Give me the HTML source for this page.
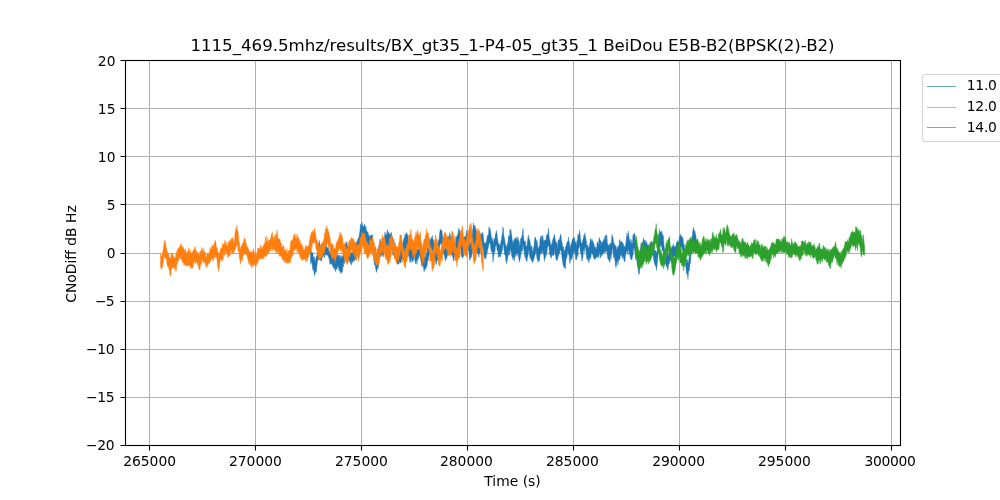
<!DOCTYPE html>
<html lang="en">
<head>
<meta charset="utf-8">
<title>1115_469.5mhz/results/BX_gt35_1-P4-05_gt35_1 BeiDou E5B-B2(BPSK(2)-B2)</title>
<style>
html,body{margin:0;padding:0;background:#fff;}
body{width:1000px;height:500px;overflow:hidden;}
svg{display:block;}
</style>
</head>
<body>
<svg width="1000" height="500" viewBox="0 0 1000 500">
<rect width="1000" height="500" fill="#fff"/>
<path d="M149.50 60 V445 M255.50 60 V445 M361.50 60 V445 M467.50 60 V445 M573.50 60 V445 M679.50 60 V445 M785.50 60 V445 M891.50 60 V445 M125 60.50 H900 M125 108.50 H900 M125 156.50 H900 M125 204.50 H900 M125 253.50 H900 M125 301.50 H900 M125 349.50 H900 M125 397.50 H900 M125 445.50 H900" stroke="#b0b0b0" stroke-width="1" fill="none"/>
<defs><clipPath id="c"><rect x="125" y="60" width="775" height="385"/></clipPath></defs>
<g clip-path="url(#c)" stroke-width="0.4" stroke-linejoin="round">
<path d="M310.45 253.2 L310.95 248.3 L311.45 253.1 L311.95 252.4 L312.45 252.3 L312.95 253.7 L313.45 259.3 L313.95 256.9 L314.45 256.8 L314.95 262.8 L315.45 260.0 L315.95 258.7 L316.45 255.8 L316.95 256.8 L317.45 250.3 L317.95 243.2 L318.45 243.9 L318.95 243.4 L319.45 240.4 L319.95 245.9 L320.45 247.7 L320.95 245.0 L321.45 243.4 L321.95 245.8 L322.45 244.6 L322.95 245.7 L323.45 243.8 L323.95 247.0 L324.45 246.4 L324.95 245.6 L325.45 245.7 L325.95 244.4 L326.45 245.3 L326.95 247.3 L327.45 248.1 L327.95 247.4 L328.45 247.5 L328.95 251.4 L329.45 250.7 L329.95 254.1 L330.45 252.6 L330.95 253.8 L331.45 254.8 L331.95 254.5 L332.45 257.2 L332.95 254.5 L333.45 256.2 L333.95 254.4 L334.45 258.0 L334.95 258.0 L335.45 261.1 L335.95 257.4 L336.45 255.5 L336.95 252.3 L337.45 255.3 L337.95 256.0 L338.45 255.1 L338.95 257.1 L339.45 254.9 L339.95 259.4 L340.45 255.6 L340.95 260.1 L341.45 255.7 L341.95 257.4 L342.45 257.2 L342.95 254.8 L343.45 253.5 L343.95 248.9 L344.45 250.1 L344.95 245.2 L345.45 245.6 L345.95 241.4 L346.45 242.4 L346.95 242.4 L347.45 246.3 L347.95 246.8 L348.45 246.1 L348.95 247.8 L349.45 249.0 L349.95 251.0 L350.45 251.0 L350.95 253.8 L351.45 252.7 L351.95 252.3 L352.45 253.7 L352.95 252.5 L353.45 249.3 L353.95 249.3 L354.45 251.4 L354.95 248.2 L355.45 248.1 L355.95 245.3 L356.45 242.2 L356.95 242.7 L357.45 240.2 L357.95 238.6 L358.45 238.4 L358.95 237.3 L359.45 233.4 L359.95 230.7 L360.45 224.4 L360.95 224.1 L361.45 228.2 L361.95 221.8 L362.45 224.9 L362.95 226.3 L363.45 226.4 L363.95 226.6 L364.45 224.5 L364.95 224.5 L365.45 230.1 L365.95 226.1 L366.45 231.1 L366.95 231.1 L367.45 232.4 L367.95 231.6 L368.45 234.4 L368.95 237.1 L369.45 235.1 L369.95 238.1 L370.45 235.7 L370.95 234.7 L371.45 236.2 L371.95 234.8 L372.45 234.8 L372.95 240.1 L373.45 241.6 L373.95 248.9 L374.45 247.7 L374.95 251.6 L375.45 252.0 L375.95 252.7 L376.45 260.2 L376.95 255.8 L377.45 249.0 L377.95 253.7 L378.45 248.4 L378.95 245.1 L379.45 243.7 L379.95 239.0 L380.45 241.0 L380.95 242.9 L381.45 241.6 L381.95 244.9 L382.45 241.6 L382.95 245.8 L383.45 245.0 L383.95 242.3 L384.45 237.8 L384.95 232.0 L385.45 235.1 L385.95 235.0 L386.45 235.3 L386.95 232.0 L387.45 229.7 L387.95 234.7 L388.45 231.7 L388.95 233.6 L389.45 233.6 L389.95 235.9 L390.45 233.5 L390.95 233.0 L391.45 232.3 L391.95 236.8 L392.45 237.0 L392.95 237.9 L393.45 242.1 L393.95 238.8 L394.45 247.3 L394.95 242.6 L395.45 246.5 L395.95 249.1 L396.45 248.0 L396.95 247.0 L397.45 254.3 L397.95 250.6 L398.45 251.8 L398.95 251.8 L399.45 247.9 L399.95 251.7 L400.45 246.4 L400.95 247.3 L401.45 247.2 L401.95 245.3 L402.45 247.2 L402.95 241.5 L403.45 241.0 L403.95 238.1 L404.45 238.1 L404.95 233.8 L405.45 236.6 L405.95 234.0 L406.45 232.5 L406.95 233.1 L407.45 235.3 L407.95 235.3 L408.45 240.5 L408.95 241.3 L409.45 243.3 L409.95 249.6 L410.45 249.0 L410.95 246.9 L411.45 248.9 L411.95 248.8 L412.45 249.3 L412.95 245.8 L413.45 244.8 L413.95 243.7 L414.45 245.2 L414.95 243.2 L415.45 251.1 L415.95 247.4 L416.45 249.2 L416.95 249.3 L417.45 249.5 L417.95 249.6 L418.45 249.1 L418.95 248.9 L419.45 246.7 L419.95 249.6 L420.45 250.8 L420.95 251.3 L421.45 253.9 L421.95 252.3 L422.45 252.7 L422.95 255.6 L423.45 257.9 L423.95 259.0 L424.45 256.1 L424.95 256.6 L425.45 258.5 L425.95 252.6 L426.45 253.8 L426.95 252.5 L427.45 247.6 L427.95 249.6 L428.45 247.4 L428.95 241.7 L429.45 242.3 L429.95 237.8 L430.45 240.0 L430.95 239.7 L431.45 237.7 L431.95 236.5 L432.45 235.6 L432.95 240.6 L433.45 239.6 L433.95 243.5 L434.45 246.7 L434.95 247.9 L435.45 250.9 L435.95 253.1 L436.45 250.1 L436.95 244.6 L437.45 245.6 L437.95 242.4 L438.45 239.7 L438.95 242.3 L439.45 233.9 L439.95 231.2 L440.45 229.1 L440.95 230.6 L441.45 230.7 L441.95 230.3 L442.45 235.8 L442.95 238.6 L443.45 237.5 L443.95 243.2 L444.45 244.0 L444.95 247.6 L445.45 248.5 L445.95 244.2 L446.45 243.3 L446.95 241.6 L447.45 241.6 L447.95 239.0 L448.45 236.0 L448.95 239.3 L449.45 234.3 L449.95 232.6 L450.45 236.3 L450.95 238.7 L451.45 235.9 L451.95 242.8 L452.45 242.6 L452.95 247.6 L453.45 247.6 L453.95 245.6 L454.45 246.3 L454.95 246.8 L455.45 241.6 L455.95 236.0 L456.45 237.4 L456.95 237.1 L457.45 234.5 L457.95 234.5 L458.45 228.1 L458.95 231.7 L459.45 229.4 L459.95 233.1 L460.45 237.9 L460.95 240.3 L461.45 238.9 L461.95 241.0 L462.45 243.8 L462.95 243.8 L463.45 239.1 L463.95 236.9 L464.45 236.0 L464.95 239.0 L465.45 236.2 L465.95 235.3 L466.45 230.2 L466.95 233.1 L467.45 234.5 L467.95 233.4 L468.45 233.5 L468.95 235.6 L469.45 243.2 L469.95 242.7 L470.45 242.7 L470.95 242.9 L471.45 239.8 L471.95 238.5 L472.45 230.8 L472.95 228.2 L473.45 222.8 L473.95 226.2 L474.45 226.2 L474.95 225.1 L475.45 228.2 L475.95 229.9 L476.45 231.8 L476.95 237.3 L477.45 237.3 L477.95 239.7 L478.45 240.5 L478.95 238.6 L479.45 238.6 L479.95 238.7 L480.45 233.3 L480.95 235.0 L481.45 235.4 L481.95 232.3 L482.45 233.2 L482.95 232.9 L483.45 237.2 L483.95 242.9 L484.45 242.0 L484.95 243.6 L485.45 243.5 L485.95 242.5 L486.45 240.9 L486.95 238.1 L487.45 235.6 L487.95 235.0 L488.45 235.0 L488.95 226.9 L489.45 229.0 L489.95 228.2 L490.45 230.8 L490.95 233.7 L491.45 240.0 L491.95 236.9 L492.45 240.7 L492.95 240.7 L493.45 244.5 L493.95 238.0 L494.45 240.7 L494.95 238.2 L495.45 233.6 L495.95 233.8 L496.45 230.4 L496.95 233.3 L497.45 238.3 L497.95 241.0 L498.45 244.4 L498.95 243.3 L499.45 244.0 L499.95 245.4 L500.45 246.1 L500.95 240.4 L501.45 240.3 L501.95 234.9 L502.45 233.5 L502.95 226.9 L503.45 229.5 L503.95 237.0 L504.45 237.8 L504.95 241.4 L505.45 244.6 L505.95 245.4 L506.45 246.0 L506.95 247.8 L507.45 243.1 L507.95 242.4 L508.45 235.9 L508.95 235.6 L509.45 238.5 L509.95 229.1 L510.45 231.7 L510.95 229.5 L511.45 234.1 L511.95 236.8 L512.45 243.3 L512.95 240.5 L513.45 243.8 L513.95 239.8 L514.45 239.1 L514.95 239.0 L515.45 237.6 L515.95 239.2 L516.45 240.3 L516.95 236.5 L517.45 241.0 L517.95 237.1 L518.45 241.6 L518.95 240.4 L519.45 243.9 L519.95 246.8 L520.45 239.1 L520.95 239.1 L521.45 237.1 L521.95 236.4 L522.45 233.5 L522.95 228.3 L523.45 235.5 L523.95 240.0 L524.45 242.1 L524.95 241.0 L525.45 241.0 L525.95 246.2 L526.45 246.0 L526.95 246.8 L527.45 241.3 L527.95 237.3 L528.45 234.9 L528.95 239.1 L529.45 239.1 L529.95 241.1 L530.45 244.1 L530.95 247.5 L531.45 245.7 L531.95 246.4 L532.45 250.8 L532.95 252.5 L533.45 247.2 L533.95 247.5 L534.45 240.4 L534.95 237.2 L535.45 237.2 L535.95 239.1 L536.45 241.6 L536.95 240.4 L537.45 242.8 L537.95 248.4 L538.45 248.5 L538.95 246.5 L539.45 246.5 L539.95 239.6 L540.45 236.3 L540.95 240.3 L541.45 235.6 L541.95 239.7 L542.45 236.3 L542.95 235.4 L543.45 241.8 L543.95 240.4 L544.45 240.2 L544.95 241.0 L545.45 240.0 L545.95 240.1 L546.45 234.9 L546.95 234.6 L547.45 235.3 L547.95 232.7 L548.45 228.0 L548.95 234.4 L549.45 239.1 L549.95 240.0 L550.45 243.2 L550.95 246.0 L551.45 243.7 L551.95 244.3 L552.45 240.8 L552.95 238.9 L553.45 237.9 L553.95 236.0 L554.45 234.3 L554.95 238.0 L555.45 240.2 L555.95 242.0 L556.45 242.8 L556.95 243.0 L557.45 249.7 L557.95 240.7 L558.45 239.6 L558.95 240.3 L559.45 239.8 L559.95 236.9 L560.45 234.3 L560.95 234.4 L561.45 240.6 L561.95 241.8 L562.45 245.4 L562.95 247.2 L563.45 246.6 L563.95 250.7 L564.45 250.7 L564.95 250.2 L565.45 247.1 L565.95 246.6 L566.45 244.0 L566.95 242.7 L567.45 241.6 L567.95 241.5 L568.45 236.8 L568.95 242.3 L569.45 242.2 L569.95 249.1 L570.45 245.7 L570.95 245.1 L571.45 242.7 L571.95 241.8 L572.45 238.8 L572.95 238.8 L573.45 238.5 L573.95 236.9 L574.45 237.9 L574.95 240.9 L575.45 242.9 L575.95 241.7 L576.45 246.0 L576.95 240.4 L577.45 240.7 L577.95 233.9 L578.45 235.2 L578.95 235.8 L579.45 230.2 L579.95 232.4 L580.45 238.4 L580.95 241.3 L581.45 244.2 L581.95 242.7 L582.45 242.2 L582.95 239.5 L583.45 238.0 L583.95 234.9 L584.45 236.2 L584.95 232.7 L585.45 236.8 L585.95 238.8 L586.45 241.7 L586.95 247.7 L587.45 244.4 L587.95 246.2 L588.45 247.2 L588.95 248.6 L589.45 244.8 L589.95 242.3 L590.45 238.5 L590.95 239.5 L591.45 241.9 L591.95 238.9 L592.45 240.9 L592.95 241.3 L593.45 244.4 L593.95 243.1 L594.45 247.7 L594.95 246.8 L595.45 246.9 L595.95 248.8 L596.45 249.0 L596.95 243.7 L597.45 241.6 L597.95 243.6 L598.45 245.4 L598.95 239.3 L599.45 237.5 L599.95 239.8 L600.45 240.8 L600.95 240.9 L601.45 245.4 L601.95 242.0 L602.45 242.0 L602.95 241.5 L603.45 239.4 L603.95 241.5 L604.45 236.6 L604.95 241.4 L605.45 235.7 L605.95 235.2 L606.45 234.7 L606.95 236.2 L607.45 244.0 L607.95 244.5 L608.45 244.9 L608.95 246.6 L609.45 244.1 L609.95 244.5 L610.45 243.2 L610.95 245.0 L611.45 241.4 L611.95 234.5 L612.45 236.6 L612.95 237.1 L613.45 240.9 L613.95 243.0 L614.45 245.4 L614.95 244.5 L615.45 246.7 L615.95 245.5 L616.45 250.1 L616.95 249.0 L617.45 246.5 L617.95 249.0 L618.45 245.5 L618.95 247.2 L619.45 239.7 L619.95 239.6 L620.45 242.8 L620.95 242.3 L621.45 241.6 L621.95 241.4 L622.45 242.5 L622.95 243.7 L623.45 244.0 L623.95 247.0 L624.45 246.1 L624.95 248.1 L625.45 245.4 L625.95 242.5 L626.45 237.4 L626.95 232.9 L627.45 235.4 L627.95 237.4 L628.45 230.9 L628.95 236.7 L629.45 239.6 L629.95 241.0 L630.45 242.8 L630.95 239.1 L631.45 241.4 L631.95 244.4 L632.45 242.4 L632.95 235.4 L633.45 234.0 L633.95 234.6 L634.45 233.1 L634.95 237.1 L635.45 240.3 L635.95 242.8 L636.45 246.3 L636.95 247.7 L637.45 254.6 L637.95 254.4 L638.45 259.9 L638.95 258.1 L639.45 255.2 L639.95 250.1 L640.45 249.3 L640.95 243.3 L641.45 244.9 L641.95 242.0 L642.45 242.9 L642.95 244.0 L643.45 237.8 L643.95 240.1 L644.45 241.2 L644.95 240.4 L645.45 239.8 L645.95 245.2 L646.45 241.8 L646.95 242.6 L647.45 245.7 L647.95 245.2 L648.45 246.0 L648.95 246.1 L649.45 244.6 L649.95 242.7 L650.45 244.7 L650.95 241.6 L651.45 243.2 L651.95 241.6 L652.45 243.0 L652.95 243.7 L653.45 245.1 L653.95 247.3 L654.45 252.4 L654.95 250.3 L655.45 250.3 L655.95 251.9 L656.45 252.5 L656.95 251.4 L657.45 246.0 L657.95 243.9 L658.45 237.8 L658.95 235.5 L659.45 229.1 L659.95 231.5 L660.45 231.7 L660.95 232.4 L661.45 232.7 L661.95 230.8 L662.45 235.7 L662.95 234.6 L663.45 236.4 L663.95 244.3 L664.45 248.2 L664.95 250.2 L665.45 251.1 L665.95 254.5 L666.45 256.2 L666.95 253.1 L667.45 253.9 L667.95 255.3 L668.45 255.3 L668.95 251.1 L669.45 250.6 L669.95 251.1 L670.45 249.4 L670.95 248.9 L671.45 247.8 L671.95 246.7 L672.45 245.7 L672.95 246.1 L673.45 243.9 L673.95 248.2 L674.45 246.1 L674.95 246.7 L675.45 246.6 L675.95 245.7 L676.45 242.6 L676.95 242.6 L677.45 240.5 L677.95 241.8 L678.45 243.0 L678.95 240.8 L679.45 235.9 L679.95 237.5 L680.45 234.0 L680.95 236.2 L681.45 235.9 L681.95 236.7 L682.45 237.3 L682.95 238.0 L683.45 243.4 L683.95 243.4 L684.45 247.2 L684.95 251.4 L685.45 255.4 L685.95 259.3 L686.45 259.8 L686.95 263.6 L687.45 259.4 L687.95 262.9 L688.45 261.9 L688.95 258.4 L689.45 255.6 L689.95 250.6 L690.45 245.0 L690.95 241.0 L691.45 237.9 L691.95 236.8 L692.45 234.7 L692.95 229.7 L693.45 227.5 L693.95 229.9 L694.45 231.5 L694.95 230.8 L695.45 234.7 L695.95 235.0 L696.45 242.5 L696.45 249.1 L695.95 251.6 L695.45 251.4 L694.95 249.1 L694.45 247.7 L693.95 243.1 L693.45 242.2 L692.95 243.0 L692.45 247.8 L691.95 247.1 L691.45 254.8 L690.95 255.5 L690.45 263.8 L689.95 262.6 L689.45 270.8 L688.95 270.3 L688.45 272.5 L687.95 279.3 L687.45 274.1 L686.95 274.5 L686.45 273.2 L685.95 267.7 L685.45 266.1 L684.95 260.3 L684.45 259.1 L683.95 254.8 L683.45 251.5 L682.95 250.1 L682.45 249.4 L681.95 249.6 L681.45 246.9 L680.95 246.1 L680.45 248.3 L679.95 251.0 L679.45 254.6 L678.95 258.1 L678.45 260.1 L677.95 257.0 L677.45 255.9 L676.95 255.1 L676.45 256.9 L675.95 259.4 L675.45 256.0 L674.95 256.0 L674.45 255.9 L673.95 255.3 L673.45 257.9 L672.95 257.7 L672.45 257.1 L671.95 259.0 L671.45 255.9 L670.95 258.2 L670.45 261.2 L669.95 260.3 L669.45 263.4 L668.95 263.8 L668.45 265.6 L667.95 270.5 L667.45 268.0 L666.95 267.6 L666.45 266.3 L665.95 265.1 L665.45 262.8 L664.95 263.5 L664.45 262.0 L663.95 259.1 L663.45 251.9 L662.95 250.2 L662.45 251.2 L661.95 249.1 L661.45 246.5 L660.95 244.3 L660.45 246.8 L659.95 246.1 L659.45 248.8 L658.95 250.6 L658.45 251.6 L657.95 255.4 L657.45 262.2 L656.95 266.5 L656.45 270.4 L655.95 266.7 L655.45 265.6 L654.95 264.9 L654.45 263.6 L653.95 260.9 L653.45 258.1 L652.95 253.6 L652.45 254.0 L651.95 255.6 L651.45 254.0 L650.95 255.3 L650.45 252.8 L649.95 255.7 L649.45 254.0 L648.95 256.8 L648.45 256.7 L647.95 259.8 L647.45 259.1 L646.95 259.5 L646.45 257.3 L645.95 254.8 L645.45 253.6 L644.95 256.1 L644.45 256.1 L643.95 256.7 L643.45 253.4 L642.95 255.1 L642.45 253.8 L641.95 254.7 L641.45 259.1 L640.95 262.3 L640.45 266.8 L639.95 267.3 L639.45 272.9 L638.95 274.6 L638.45 273.4 L637.95 267.8 L637.45 266.1 L636.95 262.0 L636.45 257.9 L635.95 257.9 L635.45 257.1 L634.95 252.7 L634.45 249.4 L633.95 247.6 L633.45 250.2 L632.95 255.2 L632.45 256.5 L631.95 259.9 L631.45 259.1 L630.95 259.4 L630.45 258.2 L629.95 255.3 L629.45 254.2 L628.95 249.9 L628.45 250.1 L627.95 255.0 L627.45 249.4 L626.95 252.7 L626.45 250.4 L625.95 252.8 L625.45 255.7 L624.95 262.1 L624.45 261.2 L623.95 260.4 L623.45 256.1 L622.95 258.9 L622.45 255.4 L621.95 257.3 L621.45 253.0 L620.95 256.2 L620.45 253.0 L619.95 259.6 L619.45 259.0 L618.95 259.6 L618.45 261.6 L617.95 265.1 L617.45 260.8 L616.95 261.5 L616.45 265.2 L615.95 267.5 L615.45 265.4 L614.95 260.6 L614.45 258.0 L613.95 255.6 L613.45 257.8 L612.95 249.4 L612.45 247.5 L611.95 252.6 L611.45 254.8 L610.95 259.6 L610.45 254.2 L609.95 262.6 L609.45 261.7 L608.95 259.8 L608.45 259.8 L607.95 259.1 L607.45 257.1 L606.95 252.5 L606.45 251.0 L605.95 249.8 L605.45 252.4 L604.95 252.6 L604.45 252.6 L603.95 252.0 L603.45 253.0 L602.95 253.8 L602.45 255.5 L601.95 253.2 L601.45 255.2 L600.95 257.7 L600.45 257.8 L599.95 253.1 L599.45 252.6 L598.95 257.2 L598.45 257.7 L597.95 254.8 L597.45 257.6 L596.95 257.3 L596.45 256.4 L595.95 258.4 L595.45 258.6 L594.95 259.7 L594.45 258.9 L593.95 257.6 L593.45 258.3 L592.95 254.0 L592.45 254.4 L591.95 253.7 L591.45 252.4 L590.95 257.1 L590.45 259.3 L589.95 256.5 L589.45 259.5 L588.95 263.0 L588.45 260.5 L587.95 258.2 L587.45 260.1 L586.95 259.6 L586.45 256.3 L585.95 250.6 L585.45 248.0 L584.95 246.8 L584.45 252.3 L583.95 250.9 L583.45 249.5 L582.95 257.7 L582.45 258.6 L581.95 261.4 L581.45 256.8 L580.95 252.5 L580.45 252.9 L579.95 247.7 L579.45 245.3 L578.95 247.8 L578.45 248.4 L577.95 256.5 L577.45 254.1 L576.95 258.3 L576.45 259.2 L575.95 260.2 L575.45 258.0 L574.95 250.8 L574.45 252.5 L573.95 254.1 L573.45 251.5 L572.95 253.6 L572.45 256.7 L571.95 259.0 L571.45 259.8 L570.95 258.0 L570.45 260.3 L569.95 263.4 L569.45 261.1 L568.95 252.6 L568.45 255.0 L567.95 250.9 L567.45 252.8 L566.95 257.7 L566.45 257.9 L565.95 259.8 L565.45 268.8 L564.95 267.7 L564.45 267.6 L563.95 267.4 L563.45 265.8 L562.95 264.8 L562.45 260.2 L561.95 258.0 L561.45 252.1 L560.95 250.4 L560.45 250.4 L559.95 250.4 L559.45 254.1 L558.95 253.6 L558.45 256.4 L557.95 256.9 L557.45 259.8 L556.95 260.7 L556.45 259.8 L555.95 258.9 L555.45 254.8 L554.95 254.5 L554.45 247.8 L553.95 255.3 L553.45 255.3 L552.95 254.2 L552.45 255.7 L551.95 254.4 L551.45 258.3 L550.95 254.9 L550.45 257.3 L549.95 252.5 L549.45 254.7 L548.95 246.8 L548.45 245.5 L547.95 246.4 L547.45 247.6 L546.95 252.2 L546.45 255.3 L545.95 253.8 L545.45 258.3 L544.95 256.8 L544.45 261.4 L543.95 257.7 L543.45 252.5 L542.95 253.2 L542.45 249.1 L541.95 254.2 L541.45 251.2 L540.95 253.5 L540.45 252.9 L539.95 256.0 L539.45 261.0 L538.95 260.8 L538.45 260.4 L537.95 262.5 L537.45 259.6 L536.95 258.4 L536.45 254.0 L535.95 250.6 L535.45 254.0 L534.95 254.9 L534.45 256.6 L533.95 259.5 L533.45 259.0 L532.95 262.8 L532.45 262.5 L531.95 261.1 L531.45 260.4 L530.95 259.4 L530.45 258.1 L529.95 257.9 L529.45 253.9 L528.95 249.7 L528.45 252.4 L527.95 256.0 L527.45 257.6 L526.95 261.8 L526.45 260.6 L525.95 260.1 L525.45 256.6 L524.95 257.5 L524.45 253.8 L523.95 250.8 L523.45 247.5 L522.95 244.8 L522.45 251.1 L521.95 250.1 L521.45 252.1 L520.95 253.8 L520.45 257.0 L519.95 259.9 L519.45 262.2 L518.95 259.6 L518.45 257.0 L517.95 253.0 L517.45 252.6 L516.95 255.8 L516.45 252.8 L515.95 253.7 L515.45 257.0 L514.95 253.8 L514.45 261.2 L513.95 257.0 L513.45 258.4 L512.95 259.9 L512.45 257.0 L511.95 257.3 L511.45 252.5 L510.95 251.9 L510.45 250.2 L509.95 248.9 L509.45 255.0 L508.95 251.7 L508.45 255.4 L507.95 256.3 L507.45 259.7 L506.95 261.3 L506.45 263.7 L505.95 260.9 L505.45 256.2 L504.95 254.8 L504.45 254.5 L503.95 248.9 L503.45 243.6 L502.95 245.1 L502.45 250.5 L501.95 250.9 L501.45 253.6 L500.95 254.3 L500.45 256.9 L499.95 256.9 L499.45 256.1 L498.95 255.7 L498.45 257.6 L497.95 252.4 L497.45 251.1 L496.95 249.4 L496.45 244.4 L495.95 245.4 L495.45 245.9 L494.95 252.5 L494.45 250.8 L493.95 254.8 L493.45 257.6 L492.95 262.2 L492.45 252.0 L491.95 252.3 L491.45 252.1 L490.95 249.5 L490.45 245.7 L489.95 242.0 L489.45 242.8 L488.95 244.3 L488.45 247.0 L487.95 248.8 L487.45 251.0 L486.95 254.5 L486.45 253.6 L485.95 259.2 L485.45 258.4 L484.95 255.9 L484.45 258.6 L483.95 256.4 L483.45 249.2 L482.95 249.2 L482.45 245.5 L481.95 245.1 L481.45 251.0 L480.95 248.0 L480.45 249.9 L479.95 254.0 L479.45 251.8 L478.95 257.3 L478.45 254.8 L477.95 252.5 L477.45 253.6 L476.95 253.1 L476.45 251.8 L475.95 246.1 L475.45 243.6 L474.95 244.9 L474.45 244.9 L473.95 246.5 L473.45 242.3 L472.95 248.5 L472.45 251.6 L471.95 253.9 L471.45 257.1 L470.95 257.4 L470.45 259.0 L469.95 257.8 L469.45 260.4 L468.95 251.2 L468.45 251.5 L467.95 247.4 L467.45 246.4 L466.95 248.7 L466.45 249.2 L465.95 248.7 L465.45 249.6 L464.95 249.4 L464.45 253.8 L463.95 255.1 L463.45 256.6 L462.95 257.2 L462.45 258.4 L461.95 256.2 L461.45 256.3 L460.95 250.4 L460.45 247.5 L459.95 246.6 L459.45 243.9 L458.95 243.7 L458.45 246.0 L457.95 248.0 L457.45 248.3 L456.95 249.6 L456.45 250.8 L455.95 251.4 L455.45 258.3 L454.95 255.3 L454.45 255.8 L453.95 259.4 L453.45 261.0 L452.95 257.7 L452.45 256.4 L451.95 253.4 L451.45 255.1 L450.95 250.5 L450.45 246.9 L449.95 246.5 L449.45 250.0 L448.95 248.5 L448.45 250.1 L447.95 256.1 L447.45 251.5 L446.95 258.7 L446.45 258.4 L445.95 257.3 L445.45 261.3 L444.95 259.0 L444.45 255.6 L443.95 254.6 L443.45 252.9 L442.95 251.4 L442.45 245.5 L441.95 244.2 L441.45 243.4 L440.95 244.2 L440.45 243.6 L439.95 244.8 L439.45 247.9 L438.95 250.6 L438.45 256.4 L437.95 259.6 L437.45 260.2 L436.95 260.8 L436.45 264.5 L435.95 263.8 L435.45 260.9 L434.95 258.9 L434.45 258.9 L433.95 255.3 L433.45 255.4 L432.95 253.3 L432.45 250.4 L431.95 250.2 L431.45 246.4 L430.95 250.9 L430.45 253.5 L429.95 252.0 L429.45 255.6 L428.95 255.2 L428.45 260.1 L427.95 260.6 L427.45 262.8 L426.95 266.5 L426.45 265.8 L425.95 268.4 L425.45 269.2 L424.95 268.4 L424.45 271.2 L423.95 271.4 L423.45 267.1 L422.95 265.0 L422.45 266.6 L421.95 266.4 L421.45 264.3 L420.95 261.2 L420.45 258.2 L419.95 256.9 L419.45 254.4 L418.95 256.1 L418.45 258.8 L417.95 259.5 L417.45 259.4 L416.95 264.4 L416.45 259.9 L415.95 261.5 L415.45 264.0 L414.95 260.8 L414.45 256.3 L413.95 256.9 L413.45 259.9 L412.95 261.7 L412.45 261.7 L411.95 259.9 L411.45 257.7 L410.95 263.0 L410.45 259.3 L409.95 262.0 L409.45 259.5 L408.95 254.4 L408.45 256.3 L407.95 248.6 L407.45 245.0 L406.95 251.2 L406.45 247.4 L405.95 248.3 L405.45 250.6 L404.95 249.4 L404.45 252.0 L403.95 253.8 L403.45 257.8 L402.95 258.6 L402.45 258.6 L401.95 259.2 L401.45 260.5 L400.95 262.8 L400.45 262.9 L399.95 261.7 L399.45 261.7 L398.95 264.1 L398.45 263.8 L397.95 264.1 L397.45 264.4 L396.95 261.1 L396.45 258.5 L395.95 259.6 L395.45 258.8 L394.95 256.3 L394.45 256.5 L393.95 256.2 L393.45 253.2 L392.95 255.5 L392.45 250.5 L391.95 251.0 L391.45 242.0 L390.95 246.4 L390.45 247.0 L389.95 248.6 L389.45 251.4 L388.95 244.5 L388.45 249.6 L387.95 248.7 L387.45 243.1 L386.95 245.0 L386.45 249.2 L385.95 245.7 L385.45 250.1 L384.95 251.9 L384.45 250.8 L383.95 250.5 L383.45 257.0 L382.95 254.4 L382.45 255.4 L381.95 254.3 L381.45 255.3 L380.95 257.3 L380.45 255.3 L379.95 255.1 L379.45 257.2 L378.95 260.4 L378.45 265.9 L377.95 269.0 L377.45 266.1 L376.95 270.5 L376.45 272.4 L375.95 270.3 L375.45 266.8 L374.95 265.2 L374.45 265.2 L373.95 260.5 L373.45 256.1 L372.95 255.3 L372.45 250.2 L371.95 249.7 L371.45 249.5 L370.95 248.6 L370.45 251.1 L369.95 248.3 L369.45 249.7 L368.95 247.1 L368.45 245.9 L367.95 244.9 L367.45 246.3 L366.95 242.5 L366.45 242.0 L365.95 240.5 L365.45 240.9 L364.95 238.4 L364.45 237.6 L363.95 239.1 L363.45 238.4 L362.95 238.8 L362.45 235.9 L361.95 239.0 L361.45 236.7 L360.95 244.9 L360.45 241.3 L359.95 243.7 L359.45 249.1 L358.95 246.8 L358.45 252.8 L357.95 255.0 L357.45 254.1 L356.95 255.6 L356.45 255.1 L355.95 260.0 L355.45 257.2 L354.95 258.9 L354.45 261.3 L353.95 259.6 L353.45 260.9 L352.95 261.7 L352.45 262.5 L351.95 261.6 L351.45 265.1 L350.95 261.2 L350.45 264.2 L349.95 261.1 L349.45 259.9 L348.95 262.1 L348.45 259.8 L347.95 258.4 L347.45 260.3 L346.95 258.0 L346.45 259.3 L345.95 260.4 L345.45 256.0 L344.95 258.3 L344.45 263.8 L343.95 261.3 L343.45 267.0 L342.95 265.6 L342.45 271.9 L341.95 272.1 L341.45 273.1 L340.95 273.6 L340.45 271.9 L339.95 271.8 L339.45 269.3 L338.95 270.8 L338.45 265.9 L337.95 267.8 L337.45 265.4 L336.95 269.3 L336.45 269.6 L335.95 267.9 L335.45 271.7 L334.95 269.7 L334.45 268.9 L333.95 266.1 L333.45 268.4 L332.95 265.5 L332.45 265.9 L331.95 264.2 L331.45 263.7 L330.95 263.4 L330.45 264.3 L329.95 264.3 L329.45 261.1 L328.95 258.3 L328.45 257.4 L327.95 255.6 L327.45 255.4 L326.95 253.9 L326.45 255.3 L325.95 254.3 L325.45 255.2 L324.95 253.7 L324.45 257.9 L323.95 256.7 L323.45 253.9 L322.95 256.7 L322.45 257.3 L321.95 258.9 L321.45 260.9 L320.95 260.9 L320.45 260.2 L319.95 258.9 L319.45 260.1 L318.95 257.7 L318.45 260.2 L317.95 258.7 L317.45 262.2 L316.95 265.3 L316.45 271.5 L315.95 272.6 L315.45 271.4 L314.95 274.7 L314.45 275.8 L313.95 271.8 L313.45 268.1 L312.95 270.6 L312.45 266.9 L311.95 262.7 L311.45 260.7 L310.95 264.3 L310.45 261.4Z" stroke="#1f77b4" fill="#1f77b4"/>
<path d="M160.45 254.0 L160.95 256.3 L161.45 256.0 L161.95 254.4 L162.45 254.2 L162.95 250.8 L163.45 248.2 L163.95 243.2 L164.45 241.6 L164.95 240.0 L165.45 241.8 L165.95 246.3 L166.45 247.7 L166.95 250.0 L167.45 252.4 L167.95 253.1 L168.45 253.7 L168.95 258.6 L169.45 253.9 L169.95 258.7 L170.45 257.4 L170.95 258.9 L171.45 252.5 L171.95 254.9 L172.45 253.5 L172.95 255.1 L173.45 256.3 L173.95 256.7 L174.45 257.2 L174.95 259.3 L175.45 256.7 L175.95 254.2 L176.45 252.6 L176.95 251.5 L177.45 249.6 L177.95 248.8 L178.45 248.2 L178.95 247.7 L179.45 246.9 L179.95 246.1 L180.45 244.4 L180.95 247.0 L181.45 243.3 L181.95 247.2 L182.45 248.2 L182.95 246.1 L183.45 247.9 L183.95 248.9 L184.45 249.8 L184.95 251.3 L185.45 249.1 L185.95 252.0 L186.45 252.9 L186.95 251.9 L187.45 251.3 L187.95 252.7 L188.45 250.3 L188.95 247.5 L189.45 251.9 L189.95 251.9 L190.45 249.9 L190.95 255.2 L191.45 252.7 L191.95 255.1 L192.45 251.6 L192.95 251.4 L193.45 249.8 L193.95 249.9 L194.45 248.9 L194.95 246.6 L195.45 247.5 L195.95 250.7 L196.45 250.9 L196.95 252.2 L197.45 252.3 L197.95 253.5 L198.45 253.0 L198.95 254.7 L199.45 255.8 L199.95 250.9 L200.45 252.8 L200.95 250.6 L201.45 249.3 L201.95 247.3 L202.45 250.5 L202.95 251.5 L203.45 248.4 L203.95 251.7 L204.45 250.8 L204.95 252.6 L205.45 254.1 L205.95 256.9 L206.45 257.9 L206.95 253.4 L207.45 254.1 L207.95 253.7 L208.45 255.2 L208.95 252.4 L209.45 252.6 L209.95 247.2 L210.45 250.2 L210.95 249.7 L211.45 247.9 L211.95 245.0 L212.45 246.8 L212.95 245.7 L213.45 245.7 L213.95 244.2 L214.45 241.9 L214.95 242.5 L215.45 240.0 L215.95 243.0 L216.45 247.6 L216.95 247.7 L217.45 248.7 L217.95 253.0 L218.45 256.6 L218.95 251.9 L219.45 252.3 L219.95 252.8 L220.45 249.0 L220.95 247.4 L221.45 248.3 L221.95 249.6 L222.45 243.2 L222.95 245.2 L223.45 244.6 L223.95 244.0 L224.45 243.6 L224.95 240.1 L225.45 242.1 L225.95 242.6 L226.45 244.7 L226.95 246.1 L227.45 246.2 L227.95 241.3 L228.45 243.4 L228.95 242.3 L229.45 241.8 L229.95 239.5 L230.45 241.2 L230.95 240.2 L231.45 238.1 L231.95 239.9 L232.45 237.7 L232.95 237.7 L233.45 240.2 L233.95 243.6 L234.45 240.0 L234.95 233.4 L235.45 230.3 L235.95 228.2 L236.45 230.9 L236.95 224.9 L237.45 230.6 L237.95 230.9 L238.45 234.7 L238.95 242.5 L239.45 241.9 L239.95 248.9 L240.45 248.8 L240.95 246.6 L241.45 246.0 L241.95 245.1 L242.45 243.7 L242.95 242.8 L243.45 241.7 L243.95 239.5 L244.45 238.2 L244.95 237.9 L245.45 240.0 L245.95 242.8 L246.45 244.1 L246.95 246.6 L247.45 247.2 L247.95 247.1 L248.45 248.9 L248.95 249.4 L249.45 251.8 L249.95 252.2 L250.45 252.1 L250.95 250.8 L251.45 251.6 L251.95 254.1 L252.45 251.5 L252.95 250.9 L253.45 248.7 L253.95 250.3 L254.45 252.8 L254.95 253.7 L255.45 255.1 L255.95 252.3 L256.45 254.4 L256.95 255.7 L257.45 248.6 L257.95 248.6 L258.45 247.9 L258.95 250.1 L259.45 248.0 L259.95 249.0 L260.45 244.7 L260.95 248.9 L261.45 247.9 L261.95 246.5 L262.45 247.1 L262.95 248.5 L263.45 244.9 L263.95 244.3 L264.45 243.6 L264.95 242.3 L265.45 236.6 L265.95 241.1 L266.45 242.2 L266.95 236.1 L267.45 240.4 L267.95 242.3 L268.45 240.4 L268.95 239.8 L269.45 240.6 L269.95 239.6 L270.45 239.3 L270.95 236.8 L271.45 233.8 L271.95 234.0 L272.45 231.9 L272.95 238.6 L273.45 238.2 L273.95 236.0 L274.45 236.0 L274.95 240.7 L275.45 233.9 L275.95 233.9 L276.45 236.9 L276.95 230.3 L277.45 232.3 L277.95 237.8 L278.45 240.0 L278.95 238.6 L279.45 239.5 L279.95 238.7 L280.45 242.8 L280.95 243.0 L281.45 243.1 L281.95 247.0 L282.45 247.0 L282.95 247.3 L283.45 245.4 L283.95 245.1 L284.45 251.0 L284.95 250.2 L285.45 249.2 L285.95 251.6 L286.45 251.7 L286.95 248.5 L287.45 254.5 L287.95 253.2 L288.45 250.5 L288.95 250.6 L289.45 250.7 L289.95 249.4 L290.45 243.3 L290.95 240.8 L291.45 241.2 L291.95 239.5 L292.45 239.4 L292.95 240.4 L293.45 235.0 L293.95 235.8 L294.45 235.4 L294.95 233.1 L295.45 236.7 L295.95 239.3 L296.45 237.5 L296.95 233.9 L297.45 234.7 L297.95 238.9 L298.45 237.7 L298.95 237.4 L299.45 244.2 L299.95 239.5 L300.45 242.5 L300.95 243.7 L301.45 246.1 L301.95 243.8 L302.45 247.4 L302.95 246.3 L303.45 249.3 L303.95 250.0 L304.45 251.0 L304.95 247.6 L305.45 247.0 L305.95 245.1 L306.45 246.1 L306.95 247.1 L307.45 247.6 L307.95 245.5 L308.45 245.6 L308.95 246.3 L309.45 239.7 L309.95 238.5 L310.45 234.7 L310.95 235.6 L311.45 231.7 L311.95 232.4 L312.45 231.4 L312.95 230.0 L313.45 232.7 L313.95 232.3 L314.45 228.1 L314.95 230.3 L315.45 233.2 L315.95 236.5 L316.45 239.2 L316.95 241.2 L317.45 239.8 L317.95 243.9 L318.45 243.9 L318.95 246.2 L319.45 248.4 L319.95 244.8 L320.45 248.5 L320.95 245.6 L321.45 244.0 L321.95 244.4 L322.45 241.3 L322.95 244.3 L323.45 240.8 L323.95 239.1 L324.45 233.1 L324.95 233.9 L325.45 229.1 L325.95 227.7 L326.45 230.5 L326.95 225.5 L327.45 229.0 L327.95 229.2 L328.45 232.0 L328.95 232.4 L329.45 235.6 L329.95 237.0 L330.45 241.2 L330.95 244.9 L331.45 243.0 L331.95 245.4 L332.45 243.9 L332.95 244.3 L333.45 246.0 L333.95 249.5 L334.45 247.7 L334.95 249.2 L335.45 249.2 L335.95 244.3 L336.45 243.2 L336.95 241.1 L337.45 241.3 L337.95 239.6 L338.45 238.8 L338.95 236.8 L339.45 235.6 L339.95 232.0 L340.45 233.8 L340.95 235.1 L341.45 233.7 L341.95 239.0 L342.45 236.2 L342.95 242.3 L343.45 245.6 L343.95 243.3 L344.45 243.5 L344.95 244.1 L345.45 247.0 L345.95 246.2 L346.45 248.5 L346.95 248.8 L347.45 248.5 L347.95 248.3 L348.45 242.6 L348.95 241.3 L349.45 239.9 L349.95 242.0 L350.45 241.0 L350.95 237.2 L351.45 238.7 L351.95 238.5 L352.45 240.2 L352.95 238.1 L353.45 238.9 L353.95 239.8 L354.45 242.4 L354.95 242.3 L355.45 242.3 L355.95 241.4 L356.45 245.7 L356.95 246.2 L357.45 245.6 L357.95 243.2 L358.45 245.4 L358.95 244.9 L359.45 243.8 L359.95 237.8 L360.45 237.8 L360.95 237.5 L361.45 234.7 L361.95 232.5 L362.45 233.0 L362.95 233.7 L363.45 233.4 L363.95 233.7 L364.45 232.7 L364.95 235.3 L365.45 236.1 L365.95 240.2 L366.45 244.1 L366.95 241.1 L367.45 244.4 L367.95 243.9 L368.45 246.0 L368.95 245.7 L369.45 240.5 L369.95 241.0 L370.45 238.0 L370.95 241.1 L371.45 240.5 L371.95 238.6 L372.45 236.8 L372.95 239.5 L373.45 243.5 L373.95 242.8 L374.45 242.7 L374.95 249.1 L375.45 246.6 L375.95 246.6 L376.45 252.3 L376.95 254.1 L377.45 253.7 L377.95 247.9 L378.45 248.3 L378.95 250.6 L379.45 247.2 L379.95 241.3 L380.45 241.3 L380.95 244.2 L381.45 238.9 L381.95 237.8 L382.45 234.5 L382.95 237.7 L383.45 237.0 L383.95 239.1 L384.45 237.1 L384.95 239.1 L385.45 242.1 L385.95 244.9 L386.45 245.4 L386.95 245.7 L387.45 247.4 L387.95 244.3 L388.45 246.6 L388.95 246.5 L389.45 238.5 L389.95 239.1 L390.45 237.0 L390.95 235.9 L391.45 236.9 L391.95 235.5 L392.45 237.4 L392.95 240.5 L393.45 240.6 L393.95 243.4 L394.45 245.7 L394.95 243.1 L395.45 246.6 L395.95 245.5 L396.45 247.1 L396.95 247.3 L397.45 246.8 L397.95 248.3 L398.45 244.3 L398.95 242.7 L399.45 240.3 L399.95 235.0 L400.45 235.0 L400.95 234.8 L401.45 235.1 L401.95 240.3 L402.45 245.1 L402.95 245.7 L403.45 248.4 L403.95 249.8 L404.45 252.6 L404.95 253.0 L405.45 248.1 L405.95 249.1 L406.45 244.9 L406.95 245.6 L407.45 244.0 L407.95 241.6 L408.45 238.4 L408.95 234.2 L409.45 234.6 L409.95 235.3 L410.45 234.2 L410.95 228.8 L411.45 234.3 L411.95 238.3 L412.45 240.0 L412.95 239.1 L413.45 242.2 L413.95 241.2 L414.45 239.6 L414.95 235.8 L415.45 236.9 L415.95 231.8 L416.45 235.2 L416.95 234.3 L417.45 230.0 L417.95 231.1 L418.45 234.1 L418.95 235.4 L419.45 234.3 L419.95 235.7 L420.45 232.1 L420.95 241.4 L421.45 241.5 L421.95 244.0 L422.45 248.7 L422.95 244.5 L423.45 243.1 L423.95 239.1 L424.45 239.3 L424.95 238.7 L425.45 234.9 L425.95 235.0 L426.45 228.3 L426.95 234.4 L427.45 232.3 L427.95 234.4 L428.45 232.7 L428.95 238.0 L429.45 241.3 L429.95 243.0 L430.45 247.0 L430.95 247.3 L431.45 250.3 L431.95 251.8 L432.45 254.2 L432.95 250.4 L433.45 248.2 L433.95 246.2 L434.45 239.7 L434.95 244.1 L435.45 234.6 L435.95 235.5 L436.45 240.2 L436.95 239.0 L437.45 243.9 L437.95 244.3 L438.45 246.0 L438.95 246.9 L439.45 248.7 L439.95 249.3 L440.45 251.5 L440.95 250.1 L441.45 244.6 L441.95 243.6 L442.45 242.0 L442.95 237.4 L443.45 237.6 L443.95 235.2 L444.45 232.5 L444.95 232.0 L445.45 234.5 L445.95 232.9 L446.45 236.9 L446.95 236.9 L447.45 235.9 L447.95 235.6 L448.45 238.1 L448.95 238.8 L449.45 241.7 L449.95 237.5 L450.45 240.3 L450.95 240.6 L451.45 235.1 L451.95 231.2 L452.45 231.2 L452.95 232.4 L453.45 235.3 L453.95 240.0 L454.45 235.9 L454.95 243.2 L455.45 243.6 L455.95 246.8 L456.45 249.2 L456.95 248.2 L457.45 249.3 L457.95 245.8 L458.45 241.2 L458.95 242.2 L459.45 239.3 L459.95 236.5 L460.45 231.1 L460.95 231.4 L461.45 229.4 L461.95 229.0 L462.45 225.8 L462.95 230.7 L463.45 235.8 L463.95 238.5 L464.45 240.5 L464.95 239.0 L465.45 242.5 L465.95 242.4 L466.45 239.2 L466.95 233.6 L467.45 237.5 L467.95 233.4 L468.45 230.0 L468.95 230.5 L469.45 224.4 L469.95 229.0 L470.45 224.9 L470.95 222.9 L471.45 225.6 L471.95 232.9 L472.45 239.2 L472.95 238.1 L473.45 242.9 L473.95 246.5 L474.45 244.5 L474.95 244.8 L475.45 241.2 L475.95 240.3 L476.45 234.7 L476.95 227.9 L477.45 231.1 L477.95 231.0 L478.45 228.5 L478.95 232.4 L479.45 230.3 L479.95 234.0 L480.45 235.4 L480.95 238.5 L481.45 241.8 L481.95 241.8 L482.45 249.5 L482.95 250.3 L483.45 260.2 L483.45 268.7 L482.95 271.0 L482.45 266.4 L481.95 263.4 L481.45 261.8 L480.95 254.6 L480.45 251.3 L479.95 248.2 L479.45 248.1 L478.95 248.0 L478.45 243.6 L477.95 248.0 L477.45 243.6 L476.95 250.1 L476.45 253.6 L475.95 260.3 L475.45 260.0 L474.95 261.3 L474.45 263.9 L473.95 262.9 L473.45 261.9 L472.95 255.1 L472.45 248.0 L471.95 249.4 L471.45 246.4 L470.95 239.1 L470.45 239.9 L469.95 244.5 L469.45 244.5 L468.95 244.6 L468.45 247.0 L467.95 249.4 L467.45 251.7 L466.95 256.8 L466.45 256.8 L465.95 254.9 L465.45 256.2 L464.95 255.2 L464.45 254.3 L463.95 252.4 L463.45 255.2 L462.95 246.3 L462.45 244.6 L461.95 246.8 L461.45 243.0 L460.95 245.7 L460.45 249.7 L459.95 257.7 L459.45 257.7 L458.95 256.7 L458.45 260.1 L457.95 256.7 L457.45 260.9 L456.95 266.9 L456.45 262.6 L455.95 259.7 L455.45 261.1 L454.95 260.1 L454.45 252.0 L453.95 253.3 L453.45 251.3 L452.95 245.4 L452.45 253.7 L451.95 252.0 L451.45 252.6 L450.95 253.4 L450.45 256.5 L449.95 255.0 L449.45 254.6 L448.95 254.5 L448.45 255.4 L447.95 255.2 L447.45 252.1 L446.95 249.9 L446.45 247.2 L445.95 249.3 L445.45 246.3 L444.95 250.7 L444.45 246.8 L443.95 248.9 L443.45 251.5 L442.95 252.9 L442.45 261.0 L441.95 259.6 L441.45 258.4 L440.95 259.6 L440.45 263.9 L439.95 266.2 L439.45 265.0 L438.95 266.0 L438.45 262.6 L437.95 258.6 L437.45 256.4 L436.95 253.3 L436.45 252.3 L435.95 254.5 L435.45 252.3 L434.95 257.4 L434.45 266.2 L433.95 264.3 L433.45 268.9 L432.95 267.3 L432.45 271.3 L431.95 269.6 L431.45 260.9 L430.95 260.3 L430.45 261.9 L429.95 261.9 L429.45 253.0 L428.95 250.0 L428.45 248.7 L427.95 246.4 L427.45 247.0 L426.95 247.7 L426.45 250.3 L425.95 253.1 L425.45 254.8 L424.95 255.5 L424.45 257.5 L423.95 263.3 L423.45 257.8 L422.95 258.4 L422.45 265.9 L421.95 258.9 L421.45 254.9 L420.95 259.9 L420.45 254.4 L419.95 252.3 L419.45 248.1 L418.95 247.7 L418.45 249.6 L417.95 246.9 L417.45 246.4 L416.95 251.0 L416.45 252.5 L415.95 253.9 L415.45 253.0 L414.95 257.1 L414.45 257.5 L413.95 257.5 L413.45 253.8 L412.95 256.9 L412.45 253.0 L411.95 251.6 L411.45 247.6 L410.95 250.3 L410.45 248.5 L409.95 249.9 L409.45 248.5 L408.95 249.4 L408.45 252.5 L407.95 258.0 L407.45 254.5 L406.95 261.4 L406.45 260.8 L405.95 263.3 L405.45 268.4 L404.95 266.7 L404.45 265.4 L403.95 265.3 L403.45 260.0 L402.95 260.7 L402.45 262.6 L401.95 254.7 L401.45 250.4 L400.95 249.3 L400.45 252.5 L399.95 256.3 L399.45 255.2 L398.95 257.9 L398.45 261.7 L397.95 258.8 L397.45 258.8 L396.95 262.6 L396.45 263.3 L395.95 261.6 L395.45 258.8 L394.95 259.8 L394.45 258.8 L393.95 254.7 L393.45 250.9 L392.95 253.4 L392.45 250.3 L391.95 249.0 L391.45 253.6 L390.95 257.3 L390.45 257.0 L389.95 262.9 L389.45 259.9 L388.95 262.2 L388.45 264.7 L387.95 263.0 L387.45 263.6 L386.95 259.7 L386.45 258.3 L385.95 260.0 L385.45 257.1 L384.95 256.8 L384.45 252.4 L383.95 250.7 L383.45 253.2 L382.95 253.2 L382.45 250.3 L381.95 254.7 L381.45 250.4 L380.95 251.9 L380.45 255.0 L379.95 255.0 L379.45 262.7 L378.95 263.1 L378.45 265.1 L377.95 264.7 L377.45 265.1 L376.95 265.6 L376.45 264.0 L375.95 265.4 L375.45 262.0 L374.95 262.4 L374.45 257.8 L373.95 260.8 L373.45 256.6 L372.95 256.7 L372.45 251.6 L371.95 252.8 L371.45 250.2 L370.95 254.8 L370.45 251.5 L369.95 254.7 L369.45 254.1 L368.95 257.1 L368.45 255.7 L367.95 259.3 L367.45 257.8 L366.95 257.4 L366.45 256.0 L365.95 253.3 L365.45 254.1 L364.95 254.0 L364.45 253.5 L363.95 249.4 L363.45 248.1 L362.95 245.8 L362.45 247.0 L361.95 249.2 L361.45 250.8 L360.95 251.8 L360.45 253.5 L359.95 255.0 L359.45 256.8 L358.95 257.9 L358.45 260.9 L357.95 257.5 L357.45 256.1 L356.95 255.8 L356.45 260.8 L355.95 256.8 L355.45 259.9 L354.95 257.7 L354.45 251.2 L353.95 256.2 L353.45 251.0 L352.95 251.9 L352.45 252.4 L351.95 249.1 L351.45 249.2 L350.95 251.3 L350.45 253.4 L349.95 256.7 L349.45 256.0 L348.95 255.9 L348.45 259.2 L347.95 263.3 L347.45 264.3 L346.95 264.4 L346.45 263.1 L345.95 262.8 L345.45 259.4 L344.95 260.7 L344.45 260.0 L343.95 256.3 L343.45 256.3 L342.95 254.9 L342.45 250.8 L341.95 253.5 L341.45 247.6 L340.95 251.3 L340.45 250.6 L339.95 248.8 L339.45 248.3 L338.95 250.6 L338.45 250.6 L337.95 251.6 L337.45 253.9 L336.95 254.5 L336.45 255.2 L335.95 259.4 L335.45 258.5 L334.95 262.5 L334.45 258.6 L333.95 259.1 L333.45 258.0 L332.95 257.1 L332.45 258.6 L331.95 258.7 L331.45 256.7 L330.95 255.0 L330.45 254.5 L329.95 251.1 L329.45 244.9 L328.95 247.3 L328.45 247.1 L327.95 243.5 L327.45 242.6 L326.95 244.9 L326.45 243.3 L325.95 247.8 L325.45 247.9 L324.95 249.7 L324.45 253.3 L323.95 251.8 L323.45 253.6 L322.95 254.2 L322.45 256.4 L321.95 256.7 L321.45 257.9 L320.95 257.9 L320.45 258.1 L319.95 260.1 L319.45 257.7 L318.95 259.7 L318.45 258.4 L317.95 255.6 L317.45 254.3 L316.95 250.1 L316.45 250.7 L315.95 247.9 L315.45 244.7 L314.95 240.5 L314.45 242.7 L313.95 243.0 L313.45 243.6 L312.95 242.3 L312.45 243.5 L311.95 247.9 L311.45 246.1 L310.95 251.8 L310.45 252.8 L309.95 253.7 L309.45 253.4 L308.95 256.1 L308.45 257.6 L307.95 256.8 L307.45 261.5 L306.95 257.6 L306.45 261.3 L305.95 262.2 L305.45 259.2 L304.95 258.9 L304.45 259.4 L303.95 258.6 L303.45 259.4 L302.95 260.3 L302.45 260.3 L301.95 259.9 L301.45 258.2 L300.95 259.6 L300.45 255.1 L299.95 257.8 L299.45 255.0 L298.95 251.0 L298.45 253.6 L297.95 252.6 L297.45 249.6 L296.95 252.6 L296.45 249.0 L295.95 247.3 L295.45 249.8 L294.95 250.4 L294.45 250.4 L293.95 249.1 L293.45 252.4 L292.95 255.9 L292.45 253.7 L291.95 256.5 L291.45 258.2 L290.95 258.3 L290.45 262.1 L289.95 263.4 L289.45 260.3 L288.95 263.0 L288.45 262.9 L287.95 263.3 L287.45 263.2 L286.95 262.0 L286.45 263.4 L285.95 260.6 L285.45 263.0 L284.95 263.1 L284.45 259.6 L283.95 259.1 L283.45 262.2 L282.95 259.2 L282.45 259.8 L281.95 258.2 L281.45 256.8 L280.95 255.9 L280.45 255.5 L279.95 256.6 L279.45 255.6 L278.95 254.9 L278.45 250.6 L277.95 253.5 L277.45 253.5 L276.95 249.8 L276.45 253.9 L275.95 249.3 L275.45 252.1 L274.95 251.6 L274.45 249.6 L273.95 249.6 L273.45 249.7 L272.95 248.3 L272.45 251.1 L271.95 245.7 L271.45 248.0 L270.95 251.0 L270.45 249.8 L269.95 248.9 L269.45 252.5 L268.95 251.9 L268.45 253.1 L267.95 252.2 L267.45 254.8 L266.95 254.1 L266.45 256.7 L265.95 255.6 L265.45 256.5 L264.95 255.7 L264.45 256.9 L263.95 256.0 L263.45 259.5 L262.95 258.2 L262.45 258.8 L261.95 258.7 L261.45 258.7 L260.95 258.0 L260.45 258.5 L259.95 259.7 L259.45 258.6 L258.95 259.3 L258.45 260.1 L257.95 263.0 L257.45 264.1 L256.95 261.6 L256.45 265.2 L255.95 266.8 L255.45 264.2 L254.95 265.0 L254.45 264.2 L253.95 263.6 L253.45 266.8 L252.95 266.2 L252.45 263.3 L251.95 268.3 L251.45 265.5 L250.95 265.3 L250.45 266.1 L249.95 260.4 L249.45 264.2 L248.95 264.4 L248.45 262.5 L247.95 258.7 L247.45 258.4 L246.95 255.7 L246.45 254.5 L245.95 254.1 L245.45 255.0 L244.95 254.3 L244.45 253.5 L243.95 252.6 L243.45 255.9 L242.95 254.4 L242.45 260.5 L241.95 260.8 L241.45 257.9 L240.95 261.6 L240.45 264.4 L239.95 260.3 L239.45 258.4 L238.95 252.5 L238.45 251.2 L237.95 250.7 L237.45 245.1 L236.95 242.1 L236.45 246.1 L235.95 247.2 L235.45 249.4 L234.95 250.6 L234.45 249.8 L233.95 253.5 L233.45 252.7 L232.95 252.5 L232.45 254.1 L231.95 253.7 L231.45 251.6 L230.95 249.5 L230.45 253.6 L229.95 256.2 L229.45 255.6 L228.95 255.6 L228.45 256.9 L227.95 257.8 L227.45 255.6 L226.95 252.0 L226.45 253.1 L225.95 254.9 L225.45 250.7 L224.95 251.5 L224.45 256.1 L223.95 252.8 L223.45 255.7 L222.95 260.5 L222.45 258.1 L221.95 261.5 L221.45 259.5 L220.95 259.8 L220.45 258.1 L219.95 262.9 L219.45 265.5 L218.95 268.7 L218.45 271.7 L217.95 268.1 L217.45 265.8 L216.95 259.2 L216.45 256.5 L215.95 257.2 L215.45 255.4 L214.95 258.5 L214.45 255.9 L213.95 257.5 L213.45 261.0 L212.95 260.6 L212.45 257.7 L211.95 259.3 L211.45 258.0 L210.95 260.7 L210.45 262.0 L209.95 260.1 L209.45 263.9 L208.95 262.7 L208.45 263.1 L207.95 265.3 L207.45 265.8 L206.95 267.6 L206.45 263.4 L205.95 267.5 L205.45 265.1 L204.95 262.9 L204.45 262.0 L203.95 260.9 L203.45 263.1 L202.95 261.5 L202.45 260.4 L201.95 259.1 L201.45 263.4 L200.95 265.3 L200.45 263.5 L199.95 270.4 L199.45 268.9 L198.95 268.8 L198.45 267.4 L197.95 264.1 L197.45 264.8 L196.95 261.1 L196.45 262.6 L195.95 263.2 L195.45 263.5 L194.95 263.2 L194.45 261.1 L193.95 261.7 L193.45 264.0 L192.95 267.8 L192.45 268.3 L191.95 267.2 L191.45 267.8 L190.95 268.1 L190.45 268.7 L189.95 265.1 L189.45 264.2 L188.95 266.0 L188.45 266.0 L187.95 266.1 L187.45 266.1 L186.95 264.4 L186.45 266.1 L185.95 265.7 L185.45 263.7 L184.95 266.0 L184.45 262.9 L183.95 265.6 L183.45 261.5 L182.95 262.4 L182.45 263.1 L181.95 260.3 L181.45 259.4 L180.95 259.1 L180.45 256.2 L179.95 258.6 L179.45 257.1 L178.95 261.3 L178.45 258.9 L177.95 259.9 L177.45 263.8 L176.95 262.9 L176.45 269.3 L175.95 271.7 L175.45 269.1 L174.95 266.3 L174.45 269.8 L173.95 268.8 L173.45 266.4 L172.95 268.0 L172.45 266.8 L171.95 268.7 L171.45 267.6 L170.95 274.4 L170.45 275.9 L169.95 275.5 L169.45 270.3 L168.95 269.6 L168.45 266.5 L167.95 267.2 L167.45 265.8 L166.95 263.7 L166.45 258.8 L165.95 257.9 L165.45 259.3 L164.95 257.4 L164.45 257.1 L163.95 255.9 L163.45 263.0 L162.95 263.5 L162.45 267.5 L161.95 267.9 L161.45 269.4 L160.95 267.7 L160.45 266.5Z" stroke="#ff7f0e" fill="#ff7f0e"/>
<path d="M635.65 235.5 L636.15 236.3 L636.65 238.6 L637.15 241.5 L637.65 246.7 L638.15 246.9 L638.65 252.2 L639.15 250.0 L639.65 254.1 L640.15 250.4 L640.65 250.4 L641.15 252.9 L641.65 247.4 L642.15 243.7 L642.65 245.4 L643.15 240.1 L643.65 241.9 L644.15 245.6 L644.65 245.8 L645.15 247.4 L645.65 247.4 L646.15 246.2 L646.65 250.6 L647.15 250.8 L647.65 249.5 L648.15 244.7 L648.65 246.5 L649.15 247.6 L649.65 245.0 L650.15 247.7 L650.65 244.7 L651.15 243.3 L651.65 240.8 L652.15 245.0 L652.65 242.7 L653.15 242.4 L653.65 238.0 L654.15 235.8 L654.65 233.6 L655.15 229.1 L655.65 229.0 L656.15 223.5 L656.65 230.0 L657.15 233.7 L657.65 236.6 L658.15 233.4 L658.65 240.0 L659.15 244.6 L659.65 247.2 L660.15 251.3 L660.65 249.4 L661.15 250.8 L661.65 253.6 L662.15 255.6 L662.65 254.9 L663.15 253.7 L663.65 251.3 L664.15 250.9 L664.65 249.5 L665.15 249.5 L665.65 247.7 L666.15 242.2 L666.65 244.7 L667.15 239.9 L667.65 244.0 L668.15 239.6 L668.65 237.9 L669.15 238.5 L669.65 236.1 L670.15 245.0 L670.65 246.6 L671.15 251.5 L671.65 250.9 L672.15 255.5 L672.65 258.9 L673.15 257.1 L673.65 256.9 L674.15 259.2 L674.65 256.1 L675.15 256.6 L675.65 255.2 L676.15 251.2 L676.65 248.9 L677.15 245.6 L677.65 244.3 L678.15 243.2 L678.65 243.2 L679.15 241.8 L679.65 245.1 L680.15 243.6 L680.65 249.0 L681.15 248.9 L681.65 254.5 L682.15 253.9 L682.65 249.5 L683.15 250.8 L683.65 255.2 L684.15 248.3 L684.65 252.1 L685.15 248.3 L685.65 244.3 L686.15 246.4 L686.65 242.0 L687.15 242.5 L687.65 239.7 L688.15 242.9 L688.65 239.8 L689.15 240.5 L689.65 239.1 L690.15 237.0 L690.65 239.1 L691.15 239.6 L691.65 240.7 L692.15 241.3 L692.65 238.1 L693.15 242.5 L693.65 240.2 L694.15 240.5 L694.65 242.3 L695.15 240.6 L695.65 241.4 L696.15 240.3 L696.65 239.8 L697.15 239.8 L697.65 238.6 L698.15 240.8 L698.65 243.1 L699.15 242.6 L699.65 246.0 L700.15 242.1 L700.65 247.1 L701.15 245.0 L701.65 244.4 L702.15 241.0 L702.65 238.3 L703.15 237.5 L703.65 236.1 L704.15 236.9 L704.65 239.4 L705.15 242.2 L705.65 240.7 L706.15 238.0 L706.65 241.9 L707.15 239.4 L707.65 242.3 L708.15 239.0 L708.65 241.8 L709.15 239.5 L709.65 241.1 L710.15 243.6 L710.65 239.0 L711.15 238.8 L711.65 239.9 L712.15 235.5 L712.65 232.3 L713.15 232.4 L713.65 238.3 L714.15 235.6 L714.65 238.3 L715.15 238.1 L715.65 238.5 L716.15 234.4 L716.65 236.6 L717.15 239.3 L717.65 238.4 L718.15 238.6 L718.65 232.9 L719.15 235.2 L719.65 232.0 L720.15 231.1 L720.65 229.1 L721.15 235.0 L721.65 234.2 L722.15 236.1 L722.65 233.0 L723.15 227.2 L723.65 231.5 L724.15 229.3 L724.65 227.8 L725.15 231.8 L725.65 233.4 L726.15 230.5 L726.65 226.8 L727.15 224.5 L727.65 227.2 L728.15 226.9 L728.65 229.7 L729.15 233.2 L729.65 234.0 L730.15 236.1 L730.65 236.3 L731.15 237.0 L731.65 235.8 L732.15 234.9 L732.65 233.4 L733.15 234.2 L733.65 234.6 L734.15 232.9 L734.65 238.3 L735.15 235.2 L735.65 235.5 L736.15 236.6 L736.65 234.2 L737.15 235.2 L737.65 238.2 L738.15 239.0 L738.65 241.7 L739.15 241.5 L739.65 240.6 L740.15 242.3 L740.65 244.3 L741.15 242.7 L741.65 240.9 L742.15 238.7 L742.65 238.1 L743.15 239.4 L743.65 241.2 L744.15 243.1 L744.65 241.8 L745.15 241.8 L745.65 242.5 L746.15 244.3 L746.65 245.2 L747.15 242.1 L747.65 242.5 L748.15 244.6 L748.65 245.1 L749.15 245.4 L749.65 247.8 L750.15 246.2 L750.65 246.2 L751.15 242.3 L751.65 245.5 L752.15 243.6 L752.65 243.3 L753.15 243.3 L753.65 240.7 L754.15 240.0 L754.65 239.7 L755.15 238.9 L755.65 244.3 L756.15 244.4 L756.65 240.9 L757.15 239.8 L757.65 243.7 L758.15 242.6 L758.65 241.0 L759.15 244.5 L759.65 245.0 L760.15 245.0 L760.65 250.0 L761.15 244.3 L761.65 247.6 L762.15 243.8 L762.65 248.0 L763.15 246.7 L763.65 247.9 L764.15 245.7 L764.65 246.6 L765.15 245.9 L765.65 248.0 L766.15 246.4 L766.65 251.8 L767.15 247.4 L767.65 250.0 L768.15 249.5 L768.65 251.6 L769.15 248.6 L769.65 250.0 L770.15 247.3 L770.65 246.4 L771.15 244.2 L771.65 243.0 L772.15 242.1 L772.65 242.7 L773.15 244.7 L773.65 242.1 L774.15 244.4 L774.65 244.1 L775.15 244.2 L775.65 243.8 L776.15 239.5 L776.65 238.7 L777.15 239.7 L777.65 239.2 L778.15 238.8 L778.65 238.9 L779.15 240.3 L779.65 239.3 L780.15 241.2 L780.65 241.4 L781.15 242.0 L781.65 239.5 L782.15 238.3 L782.65 240.7 L783.15 238.5 L783.65 236.7 L784.15 235.8 L784.65 238.5 L785.15 237.5 L785.65 237.6 L786.15 241.0 L786.65 242.6 L787.15 242.8 L787.65 241.5 L788.15 241.8 L788.65 244.4 L789.15 243.5 L789.65 242.2 L790.15 244.6 L790.65 245.7 L791.15 243.5 L791.65 238.7 L792.15 241.6 L792.65 245.2 L793.15 243.0 L793.65 244.8 L794.15 243.5 L794.65 242.2 L795.15 241.2 L795.65 242.9 L796.15 244.5 L796.65 243.1 L797.15 244.7 L797.65 246.7 L798.15 246.3 L798.65 246.3 L799.15 246.4 L799.65 247.0 L800.15 245.1 L800.65 247.5 L801.15 245.3 L801.65 241.1 L802.15 241.1 L802.65 240.8 L803.15 241.3 L803.65 241.7 L804.15 243.0 L804.65 242.4 L805.15 240.0 L805.65 242.7 L806.15 244.9 L806.65 245.6 L807.15 242.4 L807.65 243.6 L808.15 244.8 L808.65 241.6 L809.15 241.8 L809.65 242.1 L810.15 243.5 L810.65 242.0 L811.15 243.5 L811.65 246.4 L812.15 245.7 L812.65 245.5 L813.15 246.3 L813.65 244.3 L814.15 243.7 L814.65 247.0 L815.15 246.8 L815.65 251.1 L816.15 248.6 L816.65 248.9 L817.15 248.1 L817.65 246.0 L818.15 247.9 L818.65 245.7 L819.15 242.9 L819.65 243.6 L820.15 248.2 L820.65 249.1 L821.15 248.8 L821.65 249.7 L822.15 249.3 L822.65 248.5 L823.15 245.1 L823.65 247.1 L824.15 248.0 L824.65 246.8 L825.15 247.5 L825.65 249.4 L826.15 249.4 L826.65 250.9 L827.15 248.2 L827.65 250.4 L828.15 251.1 L828.65 249.3 L829.15 252.6 L829.65 249.7 L830.15 252.1 L830.65 248.9 L831.15 249.7 L831.65 249.5 L832.15 248.4 L832.65 247.7 L833.15 246.9 L833.65 246.7 L834.15 246.8 L834.65 246.1 L835.15 243.6 L835.65 241.6 L836.15 245.6 L836.65 249.8 L837.15 247.8 L837.65 249.0 L838.15 252.0 L838.65 251.1 L839.15 253.1 L839.65 253.0 L840.15 251.8 L840.65 253.6 L841.15 255.9 L841.65 250.9 L842.15 251.9 L842.65 249.2 L843.15 248.5 L843.65 249.0 L844.15 246.4 L844.65 245.0 L845.15 241.0 L845.65 241.7 L846.15 241.7 L846.65 241.6 L847.15 243.1 L847.65 239.5 L848.15 241.4 L848.65 242.3 L849.15 236.8 L849.65 239.0 L850.15 236.5 L850.65 234.3 L851.15 232.4 L851.65 232.8 L852.15 231.8 L852.65 230.7 L853.15 232.2 L853.65 232.6 L854.15 232.3 L854.65 231.7 L855.15 233.4 L855.65 226.7 L856.15 226.7 L856.65 228.5 L857.15 227.7 L857.65 231.1 L858.15 228.8 L858.65 232.2 L859.15 230.3 L859.65 234.6 L860.15 230.1 L860.65 230.5 L861.15 237.9 L861.65 234.7 L862.15 242.9 L862.65 238.1 L863.15 234.5 L863.65 237.2 L864.15 243.0 L864.65 246.8 L864.65 254.4 L864.15 255.3 L863.65 253.9 L863.15 255.1 L862.65 251.3 L862.15 251.6 L861.65 256.5 L861.15 256.5 L860.65 252.7 L860.15 247.7 L859.65 246.1 L859.15 244.1 L858.65 244.5 L858.15 241.7 L857.65 250.6 L857.15 248.2 L856.65 247.5 L856.15 243.7 L855.65 250.6 L855.15 247.8 L854.65 244.8 L854.15 245.7 L853.65 245.5 L853.15 247.0 L852.65 245.8 L852.15 244.6 L851.65 244.3 L851.15 247.5 L850.65 247.8 L850.15 249.9 L849.65 249.1 L849.15 253.5 L848.65 250.7 L848.15 252.6 L847.65 252.3 L847.15 250.9 L846.65 251.0 L846.15 255.1 L845.65 257.6 L845.15 255.8 L844.65 259.5 L844.15 257.9 L843.65 262.1 L843.15 261.0 L842.65 262.4 L842.15 264.6 L841.65 262.8 L841.15 268.3 L840.65 266.5 L840.15 265.8 L839.65 266.3 L839.15 266.7 L838.65 265.1 L838.15 263.1 L837.65 260.1 L837.15 265.2 L836.65 261.4 L836.15 258.2 L835.65 257.3 L835.15 258.9 L834.65 255.8 L834.15 255.1 L833.65 257.4 L833.15 259.7 L832.65 262.5 L832.15 259.9 L831.65 262.9 L831.15 261.6 L830.65 267.7 L830.15 268.9 L829.65 267.7 L829.15 264.5 L828.65 266.0 L828.15 262.4 L827.65 262.5 L827.15 261.5 L826.65 260.5 L826.15 262.4 L825.65 259.1 L825.15 258.5 L824.65 260.0 L824.15 259.8 L823.65 257.4 L823.15 259.1 L822.65 259.3 L822.15 262.4 L821.65 258.4 L821.15 260.6 L820.65 260.7 L820.15 264.2 L819.65 261.5 L819.15 259.2 L818.65 261.1 L818.15 264.0 L817.65 261.9 L817.15 264.5 L816.65 261.0 L816.15 260.6 L815.65 258.6 L815.15 255.7 L814.65 257.4 L814.15 257.8 L813.65 257.8 L813.15 258.5 L812.65 257.8 L812.15 256.1 L811.65 254.5 L811.15 254.1 L810.65 257.7 L810.15 253.9 L809.65 255.6 L809.15 254.5 L808.65 254.5 L808.15 255.3 L807.65 254.6 L807.15 255.4 L806.65 256.6 L806.15 253.8 L805.65 251.9 L805.15 255.8 L804.65 253.9 L804.15 250.6 L803.65 250.4 L803.15 254.2 L802.65 255.5 L802.15 254.9 L801.65 256.1 L801.15 259.3 L800.65 256.9 L800.15 260.7 L799.65 257.9 L799.15 260.7 L798.65 258.0 L798.15 255.0 L797.65 257.1 L797.15 255.3 L796.65 255.2 L796.15 254.6 L795.65 257.2 L795.15 254.1 L794.65 254.4 L794.15 255.1 L793.65 254.3 L793.15 252.9 L792.65 254.6 L792.15 257.3 L791.65 257.5 L791.15 258.2 L790.65 257.3 L790.15 256.4 L789.65 256.3 L789.15 257.5 L788.65 257.5 L788.15 254.1 L787.65 254.6 L787.15 254.2 L786.65 254.6 L786.15 251.7 L785.65 252.3 L785.15 250.4 L784.65 252.9 L784.15 252.5 L783.65 252.6 L783.15 252.0 L782.65 252.5 L782.15 250.6 L781.65 253.4 L781.15 248.4 L780.65 252.0 L780.15 250.2 L779.65 251.2 L779.15 253.3 L778.65 250.6 L778.15 252.3 L777.65 253.4 L777.15 253.5 L776.65 252.9 L776.15 253.5 L775.65 256.1 L775.15 257.4 L774.65 254.9 L774.15 255.3 L773.65 258.2 L773.15 254.7 L772.65 254.8 L772.15 253.0 L771.65 256.0 L771.15 259.5 L770.65 258.4 L770.15 262.2 L769.65 263.9 L769.15 263.8 L768.65 266.9 L768.15 265.3 L767.65 264.5 L767.15 262.4 L766.65 262.6 L766.15 260.1 L765.65 257.5 L765.15 262.1 L764.65 259.9 L764.15 257.8 L763.65 258.5 L763.15 261.2 L762.65 260.9 L762.15 260.3 L761.65 261.8 L761.15 259.6 L760.65 259.1 L760.15 257.4 L759.65 256.5 L759.15 254.6 L758.65 256.5 L758.15 254.4 L757.65 252.9 L757.15 253.3 L756.65 253.8 L756.15 254.9 L755.65 254.8 L755.15 252.9 L754.65 253.6 L754.15 252.6 L753.65 252.5 L753.15 256.5 L752.65 259.1 L752.15 257.3 L751.65 255.0 L751.15 256.1 L750.65 257.3 L750.15 255.4 L749.65 256.9 L749.15 257.0 L748.65 257.1 L748.15 256.1 L747.65 259.4 L747.15 255.8 L746.65 258.3 L746.15 256.0 L745.65 256.7 L745.15 259.0 L744.65 257.0 L744.15 254.3 L743.65 255.5 L743.15 256.5 L742.65 256.3 L742.15 253.8 L741.65 256.5 L741.15 253.8 L740.65 257.1 L740.15 252.7 L739.65 251.3 L739.15 254.0 L738.65 248.5 L738.15 248.2 L737.65 249.0 L737.15 246.6 L736.65 246.2 L736.15 249.6 L735.65 252.7 L735.15 252.0 L734.65 252.1 L734.15 250.5 L733.65 249.2 L733.15 247.0 L732.65 246.5 L732.15 247.4 L731.65 247.9 L731.15 247.0 L730.65 245.9 L730.15 246.0 L729.65 243.2 L729.15 246.1 L728.65 246.1 L728.15 243.6 L727.65 243.8 L727.15 246.5 L726.65 238.9 L726.15 242.3 L725.65 245.4 L725.15 244.2 L724.65 242.6 L724.15 244.4 L723.65 250.0 L723.15 251.9 L722.65 252.7 L722.15 245.0 L721.65 247.2 L721.15 244.0 L720.65 242.9 L720.15 242.4 L719.65 241.8 L719.15 247.2 L718.65 250.0 L718.15 249.5 L717.65 248.8 L717.15 249.9 L716.65 252.5 L716.15 250.3 L715.65 249.5 L715.15 248.5 L714.65 250.0 L714.15 248.6 L713.65 247.4 L713.15 250.4 L712.65 249.7 L712.15 253.2 L711.65 252.4 L711.15 249.4 L710.65 252.9 L710.15 253.3 L709.65 255.8 L709.15 253.7 L708.65 253.0 L708.15 254.2 L707.65 251.7 L707.15 250.0 L706.65 250.5 L706.15 254.7 L705.65 251.3 L705.15 253.7 L704.65 252.2 L704.15 253.0 L703.65 254.8 L703.15 253.8 L702.65 256.7 L702.15 255.2 L701.65 257.4 L701.15 258.7 L700.65 260.1 L700.15 260.1 L699.65 257.2 L699.15 257.1 L698.65 256.1 L698.15 257.8 L697.65 252.5 L697.15 253.6 L696.65 253.2 L696.15 252.7 L695.65 253.6 L695.15 253.5 L694.65 251.4 L694.15 252.6 L693.65 253.0 L693.15 252.6 L692.65 250.2 L692.15 253.9 L691.65 253.0 L691.15 250.2 L690.65 254.9 L690.15 254.0 L689.65 254.0 L689.15 253.8 L688.65 255.3 L688.15 256.4 L687.65 253.5 L687.15 255.7 L686.65 256.0 L686.15 261.4 L685.65 260.3 L685.15 260.4 L684.65 266.1 L684.15 267.2 L683.65 271.1 L683.15 265.4 L682.65 265.5 L682.15 266.4 L681.65 265.8 L681.15 262.9 L680.65 262.2 L680.15 263.2 L679.65 258.0 L679.15 256.4 L678.65 258.0 L678.15 260.2 L677.65 256.5 L677.15 258.8 L676.65 260.8 L676.15 263.8 L675.65 266.4 L675.15 271.0 L674.65 271.0 L674.15 275.1 L673.65 275.1 L673.15 275.0 L672.65 273.7 L672.15 271.6 L671.65 266.3 L671.15 261.9 L670.65 259.4 L670.15 256.6 L669.65 252.2 L669.15 251.1 L668.65 249.4 L668.15 252.1 L667.65 252.9 L667.15 257.3 L666.65 254.1 L666.15 254.6 L665.65 263.3 L665.15 263.5 L664.65 265.3 L664.15 266.2 L663.65 269.1 L663.15 264.6 L662.65 266.4 L662.15 266.8 L661.65 265.9 L661.15 264.0 L660.65 265.1 L660.15 261.7 L659.65 260.5 L659.15 256.6 L658.65 252.1 L658.15 253.0 L657.65 249.3 L657.15 247.0 L656.65 247.4 L656.15 243.8 L655.65 242.8 L655.15 244.0 L654.65 246.7 L654.15 252.0 L653.65 251.2 L653.15 256.0 L652.65 255.0 L652.15 254.9 L651.65 258.0 L651.15 257.6 L650.65 261.2 L650.15 258.6 L649.65 262.7 L649.15 260.0 L648.65 264.0 L648.15 261.1 L647.65 261.3 L647.15 262.4 L646.65 261.9 L646.15 264.7 L645.65 259.6 L645.15 259.2 L644.65 262.0 L644.15 261.2 L643.65 264.6 L643.15 261.2 L642.65 267.4 L642.15 264.5 L641.65 265.6 L641.15 268.8 L640.65 266.7 L640.15 266.0 L639.65 268.1 L639.15 265.9 L638.65 268.9 L638.15 266.3 L637.65 267.1 L637.15 260.6 L636.65 256.3 L636.15 257.5 L635.65 259.8Z" stroke="#2ca02c" fill="#2ca02c"/>
</g>
<path d="M149.50 445.5 v5 M255.50 445.5 v5 M361.50 445.5 v5 M467.50 445.5 v5 M573.50 445.5 v5 M679.50 445.5 v5 M785.50 445.5 v5 M891.50 445.5 v5 M125.5 60.50 h-5 M125.5 108.50 h-5 M125.5 156.50 h-5 M125.5 204.50 h-5 M125.5 253.50 h-5 M125.5 301.50 h-5 M125.5 349.50 h-5 M125.5 397.50 h-5 M125.5 445.50 h-5" stroke="#000" stroke-width="1.11" fill="none"/>
<rect x="125.5" y="60.5" width="775" height="385" fill="none" stroke="#000" stroke-width="1.11"/>
<g font-family="'DejaVu Sans', 'Liberation Sans', sans-serif" font-size="13.89px" fill="#000">
<text x="149.60" y="466" text-anchor="middle" textLength="52.8" lengthAdjust="spacing">265000</text>
<text x="255.40" y="466" text-anchor="middle" textLength="52.8" lengthAdjust="spacing">270000</text>
<text x="361.40" y="466" text-anchor="middle" textLength="52.8" lengthAdjust="spacing">275000</text>
<text x="466.40" y="466" text-anchor="middle" textLength="52.8" lengthAdjust="spacing">280000</text>
<text x="572.40" y="466" text-anchor="middle" textLength="52.8" lengthAdjust="spacing">285000</text>
<text x="678.60" y="466" text-anchor="middle" textLength="52.8" lengthAdjust="spacing">290000</text>
<text x="784.40" y="466" text-anchor="middle" textLength="52.8" lengthAdjust="spacing">295000</text>
<text x="890.15" y="466" text-anchor="middle" textLength="51.4" lengthAdjust="spacing">300000</text>
<text x="115.5" y="66" text-anchor="end">20</text>
<text x="115.5" y="114" text-anchor="end">15</text>
<text x="115.5" y="162" text-anchor="end">10</text>
<text x="115.5" y="210" text-anchor="end">5</text>
<text x="115.5" y="258" text-anchor="end">0</text>
<text x="114.5" y="306" text-anchor="end" textLength="19.6" lengthAdjust="spacing">−5</text>
<text x="114.5" y="354" text-anchor="end" textLength="28.4" lengthAdjust="spacing">−10</text>
<text x="114.5" y="402" text-anchor="end" textLength="28.4" lengthAdjust="spacing">−15</text>
<text x="114.5" y="450" text-anchor="end" textLength="28.4" lengthAdjust="spacing">−20</text>
<text x="512.5" y="486" text-anchor="middle">Time (s)</text>
<text transform="translate(75.5 254) rotate(-90)" text-anchor="middle">CNoDiff dB Hz</text>
<text x="512.5" y="51" text-anchor="middle" font-size="16.67px" textLength="644.2" lengthAdjust="spacing">1115_469.5mhz/results/BX_gt35_1-P4-05_gt35_1 BeiDou E5B-B2(BPSK(2)-B2)</text>
<rect x="922.5" y="74.5" width="100" height="67" rx="2.8" ry="2.8" fill="#fff" fill-opacity="0.8" stroke="#ccc" stroke-opacity="0.8" stroke-width="1.11"/>
<path d="M927 86.50 h29" stroke="#1f77b4" stroke-width="0.69" fill="none"/>
<text x="966.8" y="90" textLength="30.1" lengthAdjust="spacing">11.0</text>
<path d="M927 107.50 h29" stroke="#ff7f0e" stroke-width="0.69" fill="none"/>
<text x="966.8" y="111" textLength="30.1" lengthAdjust="spacing">12.0</text>
<path d="M927 127.50 h29" stroke="#2ca02c" stroke-width="0.69" fill="none"/>
<text x="966.8" y="132" textLength="30.1" lengthAdjust="spacing">14.0</text>
</g>
</svg>
</body>
</html>
